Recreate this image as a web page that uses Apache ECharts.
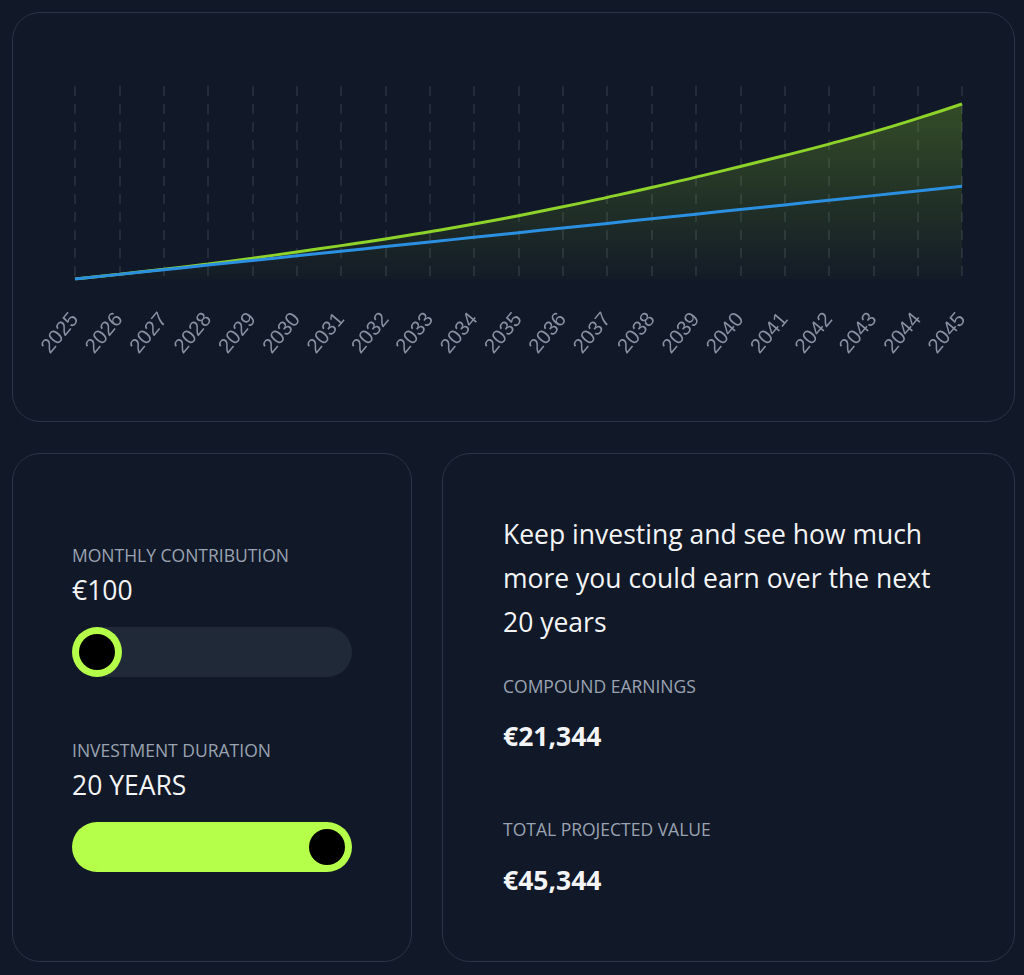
<!DOCTYPE html>
<html>
<head>
<meta charset="utf-8">
<script src="https://cdn.jsdelivr.net/npm/echarts@6/dist/echarts.min.js"></script>
<style>
  html, body { margin:0; padding:0; background:#111827; width:1024px; height:975px; overflow:hidden; font-family: "Open Sans", "Noto Sans", sans-serif; }
  .card { position:absolute; box-sizing:border-box; border:1.5px solid #2b3547; border-radius:28px; background:#111827; }
  .lbl { position:absolute; color:#9aa3b2; font-size:17.5px; white-space:nowrap; }
  .val { position:absolute; color:#f3f4f6; font-size:26.5px; white-space:nowrap; }
  .bold { font-weight:700; }
  #chart { position:absolute; left:0; top:0; width:1024px; height:440px; }
</style>
</head>
<body>
<div class="card" style="left:12px;top:12px;width:1003px;height:410px;"></div>
<div id="chart"></div>

<div class="card" style="left:12px;top:453px;width:400px;height:509px;"></div>
<div class="lbl" style="left:72px;top:543px;">MONTHLY CONTRIBUTION</div>
<div class="val" style="left:72px;top:572px;">€100</div>
<div style="position:absolute;left:72px;top:627px;width:280px;height:50px;border-radius:25px;background:#1f2937;"></div>
<div style="position:absolute;left:72px;top:627px;width:50px;height:50px;border-radius:25px;background:#b5ff4a;"></div>
<div style="position:absolute;left:79px;top:634px;width:36px;height:36px;border-radius:18px;background:#000;"></div>

<div class="lbl" style="left:72px;top:738px;">INVESTMENT DURATION</div>
<div class="val" style="left:72px;top:767px;">20 YEARS</div>
<div style="position:absolute;left:72px;top:822px;width:280px;height:50px;border-radius:25px;background:#b5ff4a;"></div>
<div style="position:absolute;left:309px;top:829px;width:36px;height:36px;border-radius:18px;background:#000;"></div>

<div class="card" style="left:442px;top:453px;width:573px;height:509px;"></div>
<div style="position:absolute;left:503px;top:512px;width:500px;color:#f3f4f6;font-size:26.5px;line-height:44px;white-space:nowrap;">Keep investing and see how much<br>more you could earn over the next<br>20 years</div>
<div class="lbl" style="left:503px;top:674px;">COMPOUND EARNINGS</div>
<div class="val bold" style="left:503px;top:718px;">€21,344</div>
<div class="lbl" style="left:503px;top:817px;">TOTAL PROJECTED VALUE</div>
<div class="val bold" style="left:503px;top:862px;">€45,344</div>

<script>
const years = ['2025','2026','2027','2028','2029','2030','2031','2032','2033','2034','2035','2036','2037','2038','2039','2040','2041','2042','2043','2044','2045'];
const contributions = [0,1200,2400,3600,4800,6000,7200,8400,9600,10800,12000,13200,14400,15600,16800,18000,19200,20400,21600,22800,24000];
const totalValue = [0,1230,2520,3900,5400,7000,8650,10350,12250,14250,16400,18700,21150,23700,26400,29150,32000,34950,38100,41600,45344];

const chart = echarts.init(document.getElementById('chart'), null, {renderer:'canvas'});
chart.setOption({
  backgroundColor: 'transparent',
  animation: false,
  grid: { left: 75, right: 62, top: 86, bottom: 161, containLabel: false },
  xAxis: {
    type: 'category',
    data: years,
    boundaryGap: false,
    axisLine: { show: false },
    axisTick: { show: false },
    axisLabel: { rotate: 50, margin: 37, color: '#8891a1', fontSize: 20.5, fontFamily: '"Liberation Sans", Arial, sans-serif' },
    splitLine: { show: true, lineStyle: { color: '#2b3341', type: [10, 8], width: 1.5 } }
  },
  yAxis: { type: 'value', min: 0, max: 50000, show: false, splitLine: { show: false } },
  series: [
    {
      name: 'Total', type: 'line', data: totalValue, smooth: true, showSymbol: false,
      lineStyle: { color: '#8ed32a', width: 3 },
      areaStyle: { color: new echarts.graphic.LinearGradient(0, 0, 0, 1, [
        { offset: 0, color: 'rgba(142,211,42,0.4)' },
        { offset: 1, color: 'rgba(142,211,42,0.03)' }
      ]) },
      z: 2
    },
    {
      name: 'Contributions', type: 'line', data: contributions, smooth: true, showSymbol: false,
      lineStyle: { color: '#2b90e2', width: 3 },
      z: 3
    }
  ]
});
</script>
</body>
</html>
